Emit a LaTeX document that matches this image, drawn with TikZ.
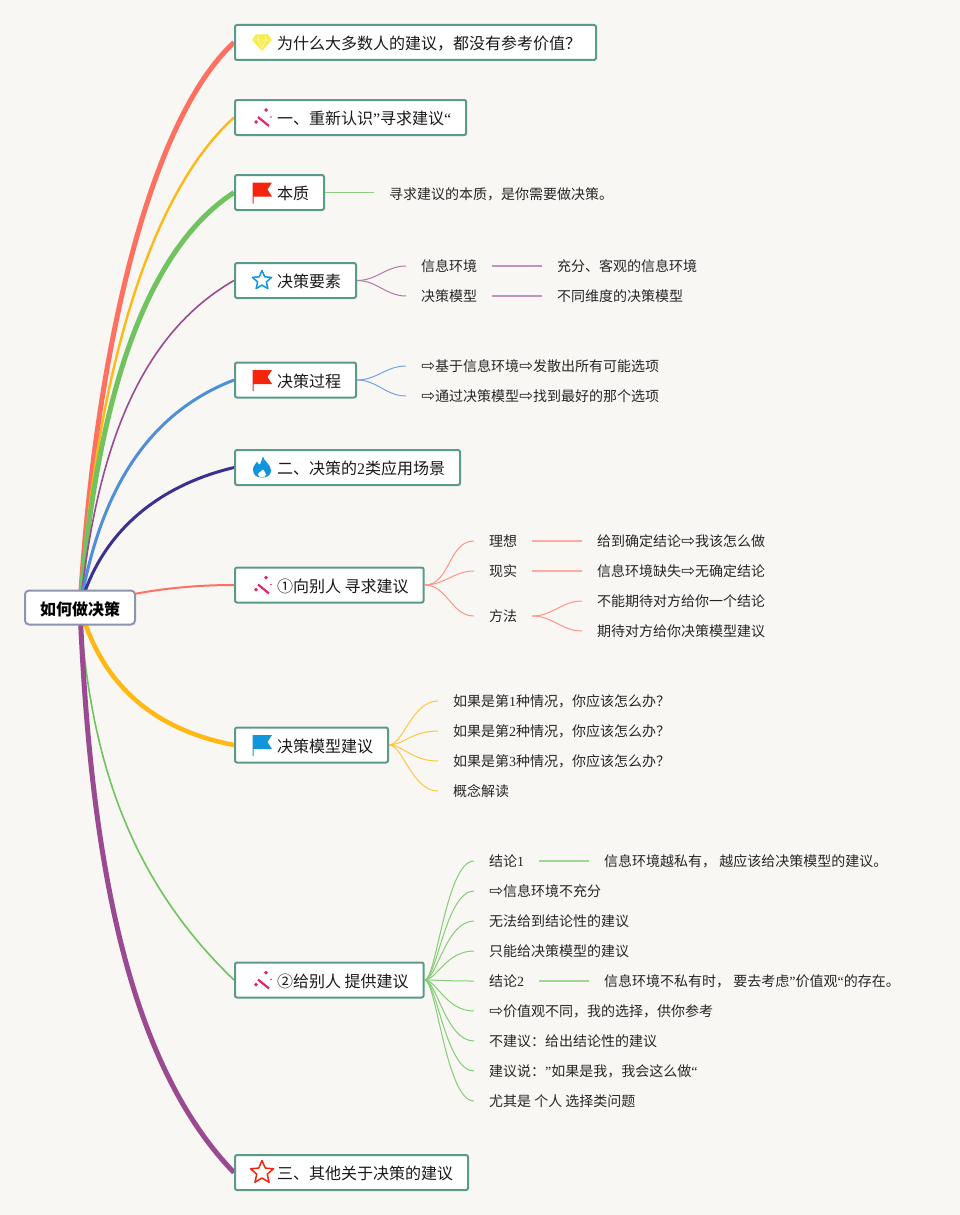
\documentclass[tikz,border=0pt]{standalone}
\usepackage{fontspec}
\setmainfont{Liberation Serif}
\newfontfamily\cjk{Noto Sans CJK SC}
\newfontfamily\arrowfont{DejaVu Sans}
\usetikzlibrary{backgrounds}
\definecolor{paper}{HTML}{F8F7F4}
\definecolor{tealb}{HTML}{5B9A8B}
\definecolor{rootb}{HTML}{8E93AE}
\definecolor{redl}{HTML}{FF7060}
\definecolor{yell}{HTML}{FFB814}
\definecolor{grnl}{HTML}{70C35E}
\definecolor{purl}{HTML}{9A4A90}
\definecolor{blul}{HTML}{4F8FD8}
\definecolor{navl}{HTML}{3A3190}
\definecolor{pinki}{HTML}{E5256F}
\definecolor{redi}{HTML}{F5250C}
\definecolor{blui}{HTML}{1296DB}
\definecolor{geml}{HTML}{F7EC4A}
\newcommand{\ra}{\makebox[14pt]{\arrowfont\fontsize{16.5}{16}\selectfont\symbol{"21E8}}}
\newcommand{\la}[1]{{\rmfamily #1}}
\tikzset{
  topic/.style={draw=tealb, line width=2pt, rounded corners=2pt, fill=white, anchor=west, inner xsep=15pt, inner ysep=0pt, minimum height=35pt, font=\cjk\fontsize{16}{16}\selectfont, text height=15pt, text depth=1pt, text=black!90},
  rootbox/.style={draw=rootb, line width=2pt, rounded corners=4pt, fill=white, inner xsep=15pt, inner ysep=0pt, minimum height=34pt, font=\cjk\bfseries\fontsize{16}{16}\selectfont, text height=15.5pt, text depth=0.5pt},
  kid/.style={anchor=west, inner xsep=15pt, inner ysep=0pt, font=\cjk\fontsize{14}{14}\selectfont, text height=12.3pt, text depth=1.7pt, text=black!85},
  fanl/.style={line width=1pt},
  barl/.style={line width=1.2pt},
  wand/.pic={
    \draw[pinki, line width=2.2pt] (-4,-0.5) -- (7,8.5);
    \fill[pinki] (-6,2.5) -- (-4,4.5) -- (-6,6.5) -- (-8,4.5) -- cycle;
    \fill[pinki] (4,-9.5) -- (6,-7.5) -- (4,-5.5) -- (2,-7.5) -- cycle;
    \fill[pinki] (9,-0.5) circle (0.9);
  },
  flagi/.pic={
    \fill[pic actions] (-9.5,-10) -- (10,-10) -- (5.5,-3) -- (10,4) -- (-8.5,4) -- (-8.5,11) -- (-9.5,11) -- cycle;
  },
  stari/.pic={
    \draw[pic actions, line join=round] (-90:10) -- (-54:4.6) -- (-18:10) -- (18:4.6) -- (54:10) -- (90:4.6) -- (126:10) -- (162:4.6) -- (198:10) -- (234:4.6) -- cycle;
  },
  gemi/.pic={
    \fill[geml] (-6,-8) -- (6,-8) -- (10,-2.5) -- (0,8.5) -- (-10,-2.5) -- cycle;
    \draw[white!50!geml, line width=0.9pt] (-9,-2.5) -- (9,-2.5) (-3,-7) -- (-4,-2.5) -- (0,6) -- (4,-2.5) -- (3,-7);
  },
  flamei/.pic={
    \fill[blui] (1,-11) .. controls (2,-6) and (9,-3) .. (9,3) .. controls (9,8) and (5,10) .. (0,10) .. controls (-5,10) and (-9,8) .. (-9,2) .. controls (-9,-2) and (-6,-3) .. (-5,-6) .. controls (-4,-4) and (-3,-3) .. (-2,-3) .. controls (-1,-5) and (0,-8) .. (1,-11) -- cycle;
    \fill[white] (1,2) .. controls (2,4) and (4,5) .. (4,7) .. controls (4,9) and (2,9.5) .. (0,9.5) .. controls (-2,9.5) and (-4,9) .. (-4,7) .. controls (-4,5) and (0,4) .. (1,2) -- cycle;
  }
}
\begin{document}
\begin{tikzpicture}[x=1pt,y=-1pt]
\useasboundingbox (0,0) rectangle (960,1215);
% root and topics
\node[rootbox] (root) at (80,607.5) {如何做决策};
\node[topic] (why) at (234,42.5) {\hspace*{27pt}为什么大多数人的建议，都没有参考价值？};
\node[topic] (renew) at (234,117.5) {\hspace*{27pt}一、重新认识\la{”}寻求建议\la{“}};
\node[topic] (nature) at (234,192.5) {\hspace*{27pt}本质};
\node[topic] (factor) at (234,280.5) {\hspace*{27pt}决策要素};
\node[topic] (process) at (234,380) {\hspace*{27pt}决策过程};
\node[topic] (scene) at (234,467.5) {\hspace*{27pt}二、决策的\la{2}类应用场景};
\node[topic] (ask) at (234,585) {\hspace*{27pt}①向别人 寻求建议};
\node[topic] (model) at (234,745) {\hspace*{27pt}决策模型建议};
\node[topic] (give) at (234,980) {\hspace*{27pt}②给别人 提供建议};
\node[topic] (other) at (234,1172.5) {\hspace*{27pt}三、其他关于决策的建议};
% icons
\pic at (262,42.5) {gemi};
\pic at (262,117.5) {wand};
\pic[fill=redi] at (262,192.5) {flagi};
\pic[draw=blui, line width=1.5pt] at (262,280.5) {stari};
\pic[fill=redi] at (262,380) {flagi};
\pic at (262,467.5) {flamei};
\pic at (262,585) {wand};
\pic[fill=blui] at (262,745) {flagi};
\pic at (262,980) {wand};
\pic[draw=redi, line width=1.5pt, scale=1.2] at (262,1172.5) {stari};
% leaves
\node[kid] (nat1) at (374,194) {寻求建议的本质，是你需要做决策。};
\node[kid] (fac1) at (406,266) {信息环境};
\node[kid] (fac2) at (406,296) {决策模型};
\node[kid] (fac1a) at (542,266) {充分、客观的信息环境};
\node[kid] (fac2a) at (542,296) {不同维度的决策模型};
\node[kid] (pro1) at (406,366) {\ra 基于信息环境\ra 发散出所有可能选项};
\node[kid] (pro2) at (406,396) {\ra 通过决策模型\ra 找到最好的那个选项};
\node[kid] (ask1) at (474,541) {理想};
\node[kid] (ask2) at (474,571) {现实};
\node[kid] (ask3) at (474,616) {方法};
\node[kid] (ask1a) at (582,541) {给到确定结论\ra 我该怎么做};
\node[kid] (ask2a) at (582,571) {信息环境缺失\ra 无确定结论};
\node[kid] (ask3a) at (582,601) {不能期待对方给你一个结论};
\node[kid] (ask3b) at (582,631) {期待对方给你决策模型建议};
\node[kid] (mod1) at (438,701) {如果是第\la{1}种情况，你应该怎么办？};
\node[kid] (mod2) at (438,731) {如果是第\la{2}种情况，你应该怎么办？};
\node[kid] (mod3) at (438,761) {如果是第\la{3}种情况，你应该怎么办？};
\node[kid] (mod4) at (438,791) {概念解读};
\node[kid] (giv1) at (474,861) {结论\la{1}};
\node[kid] (giv1a) at (589,861) {信息环境越私有， 越应该给决策模型的建议。};
\node[kid] (giv2) at (474,891) {\ra 信息环境不充分};
\node[kid] (giv3) at (474,921) {无法给到结论性的建议};
\node[kid] (giv4) at (474,951) {只能给决策模型的建议};
\node[kid] (giv5) at (474,981) {结论\la{2}};
\node[kid] (giv5a) at (589,981) {信息环境不私有时， 要去考虑\la{”}价值观\la{“}的存在。};
\node[kid] (giv6) at (474,1011) {\ra 价值观不同，我的选择，供你参考};
\node[kid] (giv7) at (474,1041) {不建议：给出结论性的建议};
\node[kid] (giv8) at (474,1071) {建议说：\la{”}如果是我，我会这么做\la{“}};
\node[kid] (giv9) at (474,1101) {尤其是 个人 选择类问题};
% branches behind the boxes
\begin{scope}[on background layer]
\fill[paper] (0,0) rectangle (960,1215);
\draw[redl, line width=5pt] (root.center) .. controls (95,350) and (150,120) .. (why.west);
\draw[yell, line width=2.4pt] (root.center) .. controls (95,380) and (148,195) .. (renew.west);
\draw[grnl, line width=5pt] (root.center) .. controls (95,420) and (138,255) .. (nature.west);
\draw[purl, line width=1.6pt] (root.center) .. controls (95,470) and (130,340) .. (factor.west);
\draw[blul, line width=3pt] (root.center) .. controls (95,520) and (130,420) .. (process.west);
\draw[navl, line width=3pt] (root.center) .. controls (95,550) and (140,490) .. (scene.west);
\draw[redl, line width=2pt] (root.center) .. controls (130,592) and (180,585) .. (ask.west);
\draw[yell, line width=4.5pt] (root.center) .. controls (95,660) and (130,725) .. (model.west);
\draw[grnl, line width=1.6pt] (root.center) .. controls (90,760) and (130,880) .. (give.west);
\draw[purl, line width=5pt] (root.center) .. controls (90,850) and (125,1060) .. (other.west);
\end{scope}
% thin connectors
\draw[grnl!80, fanl] (nature.east) -- (nature.east -| nat1.west);
\draw[purl!75, fanl] (factor.east) to[out=0,in=180] (fac1.west);
\draw[purl!75, fanl] (factor.east) to[out=0,in=180] (fac2.west);
\draw[purl!60, barl] (fac1.east) -- (fac1a.west);
\draw[purl!60, barl] (fac2.east) -- (fac2a.west);
\draw[blul!80, fanl] (process.east) to[out=0,in=180] (pro1.west);
\draw[blul!80, fanl] (process.east) to[out=0,in=180] (pro2.west);
\foreach \k in {ask1,ask2,ask3} \draw[redl!75, fanl] (ask.east) to[out=0,in=180] (\k.west);
\draw[redl!60, barl] (ask1.east) -- (ask1a.west);
\draw[redl!60, barl] (ask2.east) -- (ask2a.west);
\draw[redl!75, fanl] (ask3.east) to[out=0,in=180] (ask3a.west);
\draw[redl!75, fanl] (ask3.east) to[out=0,in=180] (ask3b.west);
\foreach \k in {mod1,mod2,mod3,mod4} \draw[yell!80, fanl] (model.east) .. controls +(14,0) and +(-26,0) .. (\k.west);
\foreach \k in {giv1,giv2,giv3,giv4,giv5,giv6,giv7,giv8,giv9} \draw[grnl!85, fanl] (give.east) .. controls +(12,0) and +(-28,0) .. (\k.west);
\draw[grnl!65, barl] (giv1.east) -- (giv1a.west);
\draw[grnl!65, barl] (giv5.east) -- (giv5a.west);
\end{tikzpicture}
\end{document}
